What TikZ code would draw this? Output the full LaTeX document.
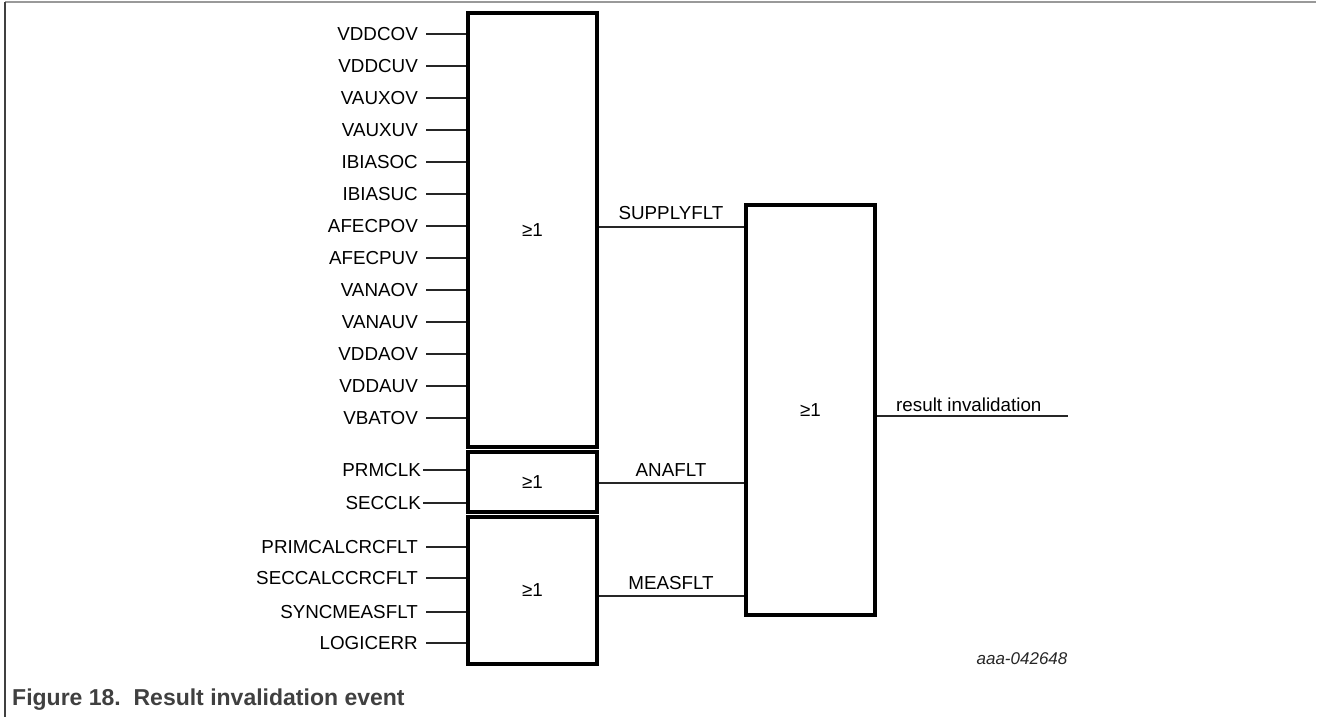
\documentclass[tikz,border=0pt]{standalone}
\usepackage{fontspec}
\setmainfont{Liberation Sans}
\definecolor{captiongray}{HTML}{404040}
\begin{document}
\begin{tikzpicture}[x=1pt,y=-1pt,
  lblfont/.style={font=\fontsize{18.8}{22}\selectfont},
  gate/.style={draw, line width=3.1pt, minimum width=129pt, inner sep=0pt, lblfont},
  inlab/.style={anchor=east, inner xsep=8pt, inner ysep=0pt, lblfont},
  wire/.style={line width=1.4pt, draw=black!85},
  siglab/.style={lblfont, inner sep=0pt}]
\useasboundingbox (0,0) rectangle (1326,717);
% frame
\draw[line width=2pt, draw=black!40] (5,2) -- (1316,2);
\draw[line width=1.5pt, draw=black!75] (5,2) -- (5,717);
% gates
\node[gate, minimum height=434pt] (A) at (532.5,230) {≥1};
\node[gate, minimum height=60pt] (B) at (532.5,482) {≥1};
\node[gate, minimum height=147pt] (C) at (532.5,590.5) {≥1};
\node[gate, minimum width=129pt, minimum height=410pt] (D) at (810.5,410) {≥1};
% inputs of A
\foreach \t [count=\i from 0] in {VDDCOV,VDDCUV,VAUXOV,VAUXUV,IBIASOC,IBIASUC,AFECPOV,AFECPUV,VANAOV,VANAUV,VDDAOV,VDDAUV,VBATOV}{
  \node[inlab] (a\i) at (426,{34+32*\i}) {\t};
  \draw[wire] (a\i.east) -- (a\i.east -| A.west);
}
% inputs of B
\node[inlab, inner xsep=2pt] (b0) at (423,470) {PRMCLK};
\node[inlab, inner xsep=2pt] (b1) at (423,503) {SECCLK};
\foreach \i in {0,1}{\draw[wire] (b\i.east) -- (b\i.east -| B.west);}
% inputs of C
\node[inlab] (c0) at (426,547) {PRIMCALCRCFLT};
\node[inlab] (c1) at (426,578) {SECCALCCRCFLT};
\node[inlab] (c2) at (426,612) {SYNCMEASFLT};
\node[inlab] (c3) at (426,643) {LOGICERR};
\foreach \i in {0,...,3}{\draw[wire] (c\i.east) -- (c\i.east -| C.west);}
% intermediate signals
\coordinate (dS) at (746,227);
\coordinate (dA) at (746,483);
\coordinate (dM) at (746,596);
\draw[wire] (dS -| A.east) -- (dS -| D.west);
\draw[wire] (dA -| B.east) -- (dA -| D.west);
\draw[wire] (dM -| C.east) -- (dM -| D.west);
\node[siglab] (ls) at (671,213) {SUPPLYFLT};
\node[siglab] (la) at (671,470) {ANAFLT};
\node[siglab] (lm) at (671,583) {MEASFLT};
% output
\coordinate (out) at (1068,416);
\draw[wire] (out -| D.east) -- (out);
\node[siglab, anchor=west] (lo) at (896,405) {result invalidation};
% figure id
\node[font=\fontsize{17}{20}\selectfont\itshape, text=black!85, inner sep=0pt] (fid) at (1022,659) {aaa-042648};
% caption
\node[anchor=west, font=\fontsize{23}{26}\selectfont\bfseries, text=captiongray, inner sep=0pt] (cap) at (12,700) {Figure 18.\ \ Result invalidation event};
\end{tikzpicture}
\end{document}
